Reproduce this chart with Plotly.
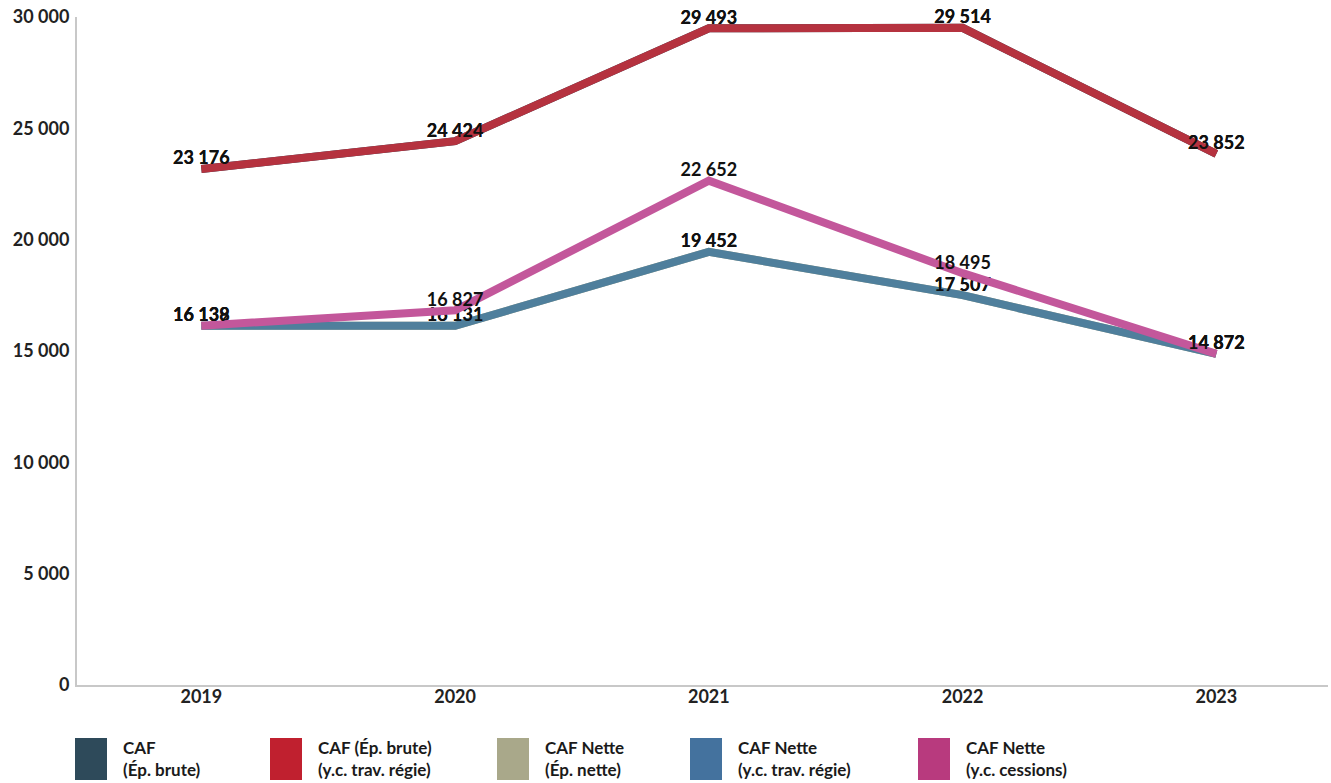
import plotly.graph_objects as go

years = ["2019", "2020", "2021", "2022", "2023"]
series_names = ["CAF<br>(Ép. brute)", "CAF (Ép. brute)<br>(y.c. trav. régie)", "CAF Nette<br>(Ép. nette)",
                "CAF Nette<br>(y.c. trav. régie)", "CAF Nette<br>(y.c. cessions)"]
caf_brute = [23176, 24424, 29493, 29514, 23852]
caf_brute_regie = [23176, 24424, 29493, 29514, 23852]
caf_nette = [16138, 16131, 19452, 17507, 14872]
caf_nette_regie = [16138, 16131, 19452, 17507, 14872]
caf_nette_cessions = [16139, 16827, 22652, 18495, 14872]

all_values = [caf_brute, caf_brute_regie, caf_nette, caf_nette_regie, caf_nette_cessions]
line_colors = ["#2E4A5A", "#B5323F", "#A9A88A", "#4F7F9C", "#C3579B"]
legend_colors = ["#2E4A5A", "#C0202F", "#A9A88A", "#44729E", "#B83A7E"]

W, H = 1331, 783
ml, mr, mt, mb = 77, 3, 17, 98
pw, ph = W - ml - mr, H - mt - mb

fig = go.Figure()
xs = list(range(len(years)))
for name, vals, col in zip(series_names, all_values, line_colors):
    fig.add_trace(go.Scatter(
        x=xs, y=vals, mode="lines+text", name=name.replace("<br>", " "),
        line=dict(color=col, width=8),
        text=vals, texttemplate="%{y:,}", textposition="top center",
        textfont=dict(family="Lato", size=18, color="#111111", weight="bold"),
        showlegend=False, cliponaxis=False,
    ))

def px2paper(x, y):
    return (x - ml) / pw, (H - mb - y) / ph

box_left = [75, 270, 497, 690, 918]
shapes, annos = [], []
for bx, name, col in zip(box_left, series_names, legend_colors):
    x0, y0 = px2paper(bx, 738)
    x1, y1 = px2paper(bx + 32, 780)
    shapes.append(dict(type="rect", xref="paper", yref="paper", x0=x0, x1=x1, y0=y1, y1=y0,
                       fillcolor=col, line=dict(width=0)))
    tx, ty = px2paper(bx + 46, 758)
    annos.append(dict(xref="paper", yref="paper", x=tx, y=ty, xanchor="left", yanchor="middle",
                      text=name, showarrow=False, align="left",
                      font=dict(family="Lato", size=17, color="#1A1A1A", weight="bold")))

fig.update_layout(
    width=W, height=H, margin=dict(l=ml, r=mr, t=mt, b=mb),
    paper_bgcolor="white", plot_bgcolor="white",
    separators=", ",
    shapes=shapes, annotations=annos,
    xaxis=dict(tickmode="array", tickvals=xs, ticktext=years, range=[-0.49, 4.44],
               showgrid=False, zeroline=False, showline=True, linecolor="#C8C8C8", linewidth=2,
               ticks="", ticklabelstandoff=-6,
               tickfont=dict(family="Lato", size=18, color="#222222", weight="bold")),
    yaxis=dict(range=[0, 30000], dtick=5000, tickformat=",", showgrid=False, zeroline=False,
               showline=True, linecolor="#C8C8C8", linewidth=2, ticks="", ticklabelstandoff=2,
               tickfont=dict(family="Lato", size=18, color="#222222", weight="bold")),
)

fig.write_html("out.html", config={"displayModeBar": False},
               post_script="document.body.style.margin='0px';document.body.style.padding='0px';")
